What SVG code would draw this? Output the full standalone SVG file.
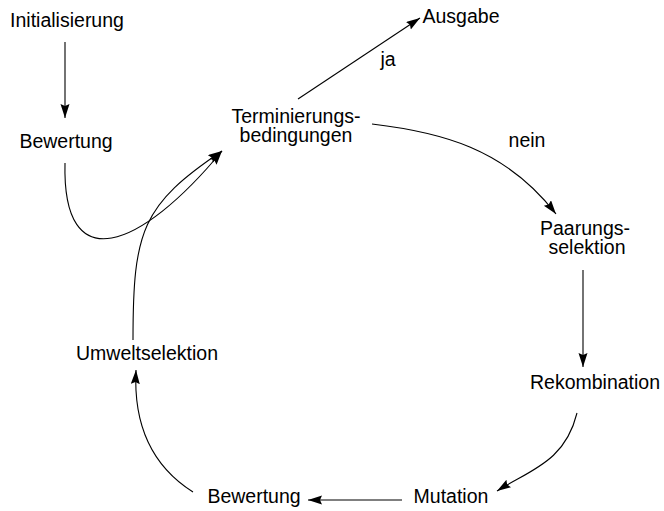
<svg xmlns="http://www.w3.org/2000/svg" width="664" height="511" viewBox="0 0 664 511">
<style>
text{font-family:"Liberation Sans",Arial,sans-serif;font-size:19.5px;fill:#000;text-anchor:middle}
.c{fill:none;stroke:#000;stroke-width:1.1}
</style>
<defs>
<marker id="ah" markerUnits="userSpaceOnUse" markerWidth="15" markerHeight="10" refX="14" refY="4.5" orient="auto">
<path d="M0,0 L14,4.5 L0,9 L2,4.5 Z" fill="#000"/>
</marker>
</defs>
<rect width="664" height="511" fill="#fff"/>
<g id="connectors">
<path class="c" d="M65,42 L65,118" marker-end="url(#ah)"/>
<path class="c" d="M65,163 C62,280 140,250 222,151" marker-end="url(#ah)"/>
<path class="c" d="M133,340 C133,230 142,205 222,151" marker-end="url(#ah)"/>
<path class="c" d="M298,99 L420,18" marker-end="url(#ah)"/>
<path class="c" d="M372,124 C440,132 505,148 556,214" marker-end="url(#ah)"/>
<path class="c" d="M583,270 L583,367" marker-end="url(#ah)"/>
<path class="c" d="M577,413 C565,462 530,470 497,491" marker-end="url(#ah)"/>
<path class="c" d="M402,500 L308,500" marker-end="url(#ah)"/>
<path class="c" d="M193,492 C155,468 133,430 136,370" marker-end="url(#ah)"/>
</g>
<g id="initialisierung"><text x="67" y="27">Initialisierung</text></g>
<g id="bewertung1"><text x="66" y="148">Bewertung</text></g>
<g id="terminierung"><text x="296" y="123">Terminierungs-</text><text x="296" y="142">bedingungen</text></g>
<g id="ausgabe"><text x="461" y="23">Ausgabe</text></g>
<g id="label-ja"><text x="388" y="66">ja</text></g>
<g id="label-nein"><text x="527" y="147">nein</text></g>
<g id="paarung"><text x="585" y="235">Paarungs-</text><text x="587" y="254">selektion</text></g>
<g id="rekombination"><text x="595" y="389">Rekombination</text></g>
<g id="mutation"><text x="451" y="503">Mutation</text></g>
<g id="bewertung2"><text x="254" y="503">Bewertung</text></g>
<g id="umweltselektion"><text x="147" y="360">Umweltselektion</text></g>
</svg>
